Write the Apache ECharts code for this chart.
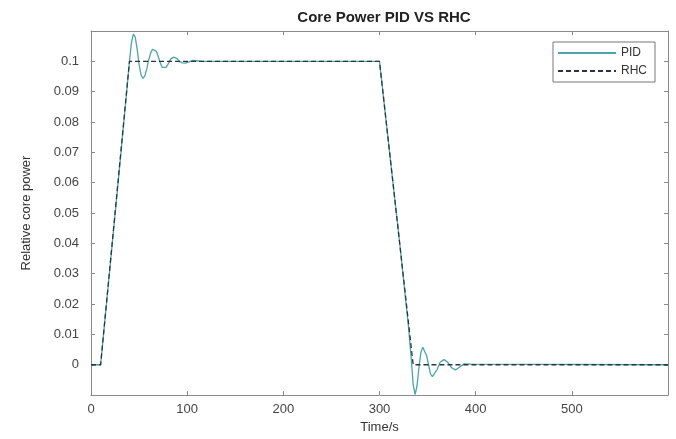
<!DOCTYPE html>
<html>
<head>
<meta charset="utf-8">
<script src="https://cdn.jsdelivr.net/npm/echarts@6/dist/echarts.min.js"></script>
<style>
  html, body { margin: 0; padding: 0; background: #fff; }
  #main { width: 676px; height: 439px; }
</style>
</head>
<body>
<div id="main"></div>
<script>
// time (s) and relative core power
var pidTime = [0, 10, 20, 30, 38, 40, 42, 44, 46, 48, 50, 52, 54, 56, 58, 60, 62, 64, 66, 68, 70, 72, 74, 76, 78, 80,
  83, 86, 89, 92, 95, 98, 102, 106, 110, 115, 300,
  310, 320, 330, 333, 335, 337, 339, 341, 343, 345, 347, 349, 351, 353, 355, 357, 360, 363, 367, 371, 375, 379, 383, 388, 395, 600];
var pidPower = [0, 0, 0.033, 0.066, 0.093, 0.1, 0.106, 0.109, 0.108, 0.104, 0.099, 0.0955, 0.0944, 0.0952, 0.0975, 0.1005, 0.1027, 0.104, 0.1041, 0.1033, 0.1015, 0.0995, 0.098, 0.0976, 0.098, 0.099,
  0.1008, 0.1014, 0.101, 0.1, 0.0995, 0.0994, 0.0998, 0.1003, 0.1002, 0.1, 0.1,
  0.0714, 0.043, 0.013, 0.002, -0.0065, -0.0098, -0.007, -0.001, 0.004, 0.0058, 0.0055, 0.003, 0, -0.003, -0.0039, -0.0035, -0.0015, 0.0008, 0.0017, 0.0008, -0.001, -0.0017, -0.0008, 0.0003, 0.0002, 0];
var rhcTime = [0, 10, 40, 300, 335, 600];
var rhcPower = [0, 0, 0.1, 0.1, 0, 0];
var xTicks = [0, 100, 200, 300, 400, 500];

var pidData = pidTime.map(function (t, i) { return [t, pidPower[i]]; });
var rhcData = rhcTime.map(function (t, i) { return [t, rhcPower[i]]; });

var myChart = echarts.init(document.getElementById('main'));
var axisColor = '#8a8a8a';
myChart.setOption({
  animation: false,
  title: {
    text: 'Core Power PID VS RHC',
    left: 379, top: 5, textAlign: 'center',
    textStyle: { fontFamily: 'Liberation Sans', fontSize: 15, fontWeight: 'bold', color: '#222' }
  },
  legend: {
    right: 21, top: 42,
    orient: 'vertical',
    itemWidth: 58, itemHeight: 10, itemGap: 6,
    padding: [5, 8, 5, 4],
    borderColor: '#777', borderWidth: 1,
    itemStyle: { opacity: 0 },
    textStyle: { fontFamily: 'Liberation Sans', fontSize: 12, color: '#333' },
    data: ['PID', 'RHC']
  },
  grid: { left: 91, right: 8, top: 31, bottom: 40 },
  xAxis: [{
    type: 'value', min: 0, max: 600, interval: 100,
    name: 'Time/s', nameLocation: 'middle', nameGap: 23,
    nameTextStyle: { fontFamily: 'Liberation Sans', fontSize: 13, color: '#333' },
    axisLine: { onZero: false, lineStyle: { color: axisColor } },
    axisTick: { inside: true, length: 4, lineStyle: { color: axisColor } },
    axisLabel: {
      fontFamily: 'Liberation Sans', fontSize: 13, color: '#444', margin: 8,
      formatter: function (v) { return xTicks.indexOf(v) >= 0 ? String(v) : ''; }
    },
    splitLine: { show: false }
  }, {
    type: 'value', position: 'top', min: 0, max: 600, interval: 100,
    axisLine: { onZero: false, lineStyle: { color: axisColor } },
    axisTick: { inside: true, length: 4, lineStyle: { color: axisColor } },
    axisLabel: { show: false },
    splitLine: { show: false }
  }],
  yAxis: [{
    type: 'value', min: -0.01, max: 0.11, interval: 0.01,
    name: 'Relative core power', nameLocation: 'middle', nameGap: 58,
    nameTextStyle: { fontFamily: 'Liberation Sans', fontSize: 13, color: '#333' },
    axisLine: { show: true, onZero: false, lineStyle: { color: axisColor } },
    axisTick: { show: true, inside: true, length: 4, lineStyle: { color: axisColor } },
    axisLabel: {
      fontFamily: 'Liberation Sans', fontSize: 13, color: '#444', margin: 12,
      formatter: function (v) {
        if (v < -0.001 || v > 0.105) return '';
        return String(+v.toFixed(2));
      }
    },
    splitLine: { show: false }
  }, {
    type: 'value', position: 'right', min: -0.01, max: 0.11, interval: 0.01,
    axisLine: { show: true, onZero: false, lineStyle: { color: axisColor } },
    axisTick: { show: true, inside: true, length: 4, lineStyle: { color: axisColor } },
    axisLabel: { show: false },
    splitLine: { show: false }
  }],
  series: [{
    name: 'PID',
    type: 'line',
    data: pidData,
    showSymbol: false,
    symbol: 'none',
    lineStyle: { width: 1.3, color: '#4aa6a8' },
    itemStyle: { color: '#4aa6a8' },
    z: 2
  }, {
    name: 'RHC',
    type: 'line',
    data: rhcData,
    showSymbol: false,
    symbol: 'none',
    lineStyle: { width: 1.3, color: '#2b3440', type: [5, 3] },
    itemStyle: { color: '#2b3440' },
    z: 3
  }]
});
</script>
</body>
</html>
